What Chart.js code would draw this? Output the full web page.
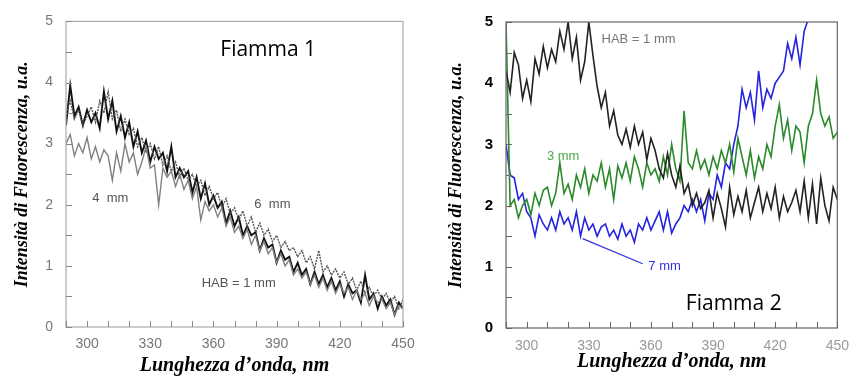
<!DOCTYPE html>
<html>
<head>
<meta charset="utf-8">
<script src="https://cdn.jsdelivr.net/npm/chart.js@4.4.1/dist/chart.umd.min.js"></script>
<style>
  body { margin: 0; background: #fff; }
  #wrap { display: flex; width: 859px; height: 376px; }
  .panel { position: relative; height: 376px; }
</style>
</head>
<body>
<div id="wrap">
  <div class="panel" style="width:430px"><canvas id="fiamma1Chart"></canvas></div>
  <div class="panel" style="width:429px"><canvas id="fiamma2Chart"></canvas></div>
</div>
<script>
// Wavelengths (nm), shared by every spectrum
const wavelengths = [290, 292, 294, 296, 298, 300, 302, 304, 306, 308, 310, 312, 314, 316, 318, 320,
  322, 324, 326, 328, 330, 332, 334, 336, 338, 340, 342, 344, 346, 348, 350, 352, 354, 356, 358, 360,
  362, 364, 366, 368, 370, 372, 374, 376, 378, 380, 382, 384, 386, 388, 390, 392, 394, 396, 398, 400,
  402, 404, 406, 408, 410, 412, 414, 416, 418, 420, 422, 424, 426, 428, 430, 432, 434, 436, 438, 440,
  442, 444, 446, 448, 450];

// Fiamma 1
const f1Hab1 = [3.30, 3.95, 3.45, 3.60, 3.30, 3.55, 3.35, 3.50, 3.25, 3.85, 3.40, 3.70, 3.20, 3.45, 3.10, 3.35,
  2.95, 3.20, 2.85, 3.05, 2.70, 2.95, 2.75, 2.85, 2.55, 2.95, 2.45, 2.60, 2.45, 2.55, 2.20, 2.45, 2.10, 2.35, 2.00, 2.15,
  1.95, 2.05, 1.70, 1.90, 1.65, 1.80, 1.50, 1.65, 1.50, 1.55, 1.25, 1.45, 1.30, 1.35, 1.05, 1.25, 1.10, 1.15, 0.90, 1.05,
  0.85, 0.95, 0.70, 0.90, 0.70, 0.85, 0.65, 0.80, 0.60, 0.75, 0.50, 0.70, 0.55, 0.60, 0.40, 0.85, 0.45, 0.55, 0.30, 0.50,
  0.35, 0.45, 0.20, 0.40, 0.30];
const f1Mm4 = [3.00, 3.15, 2.80, 3.00, 2.85, 3.10, 2.75, 2.95, 2.70, 2.90, 2.80, 2.40, 2.85, 2.55, 3.00, 2.70,
  2.85, 2.50, 2.70, 2.95, 2.60, 2.65, 2.00, 2.60, 2.45, 2.55, 2.30, 2.50, 2.25, 2.40, 2.10, 2.30, 1.75, 2.05, 1.90, 2.00,
  1.80, 1.95, 1.65, 1.80, 1.55, 1.65, 1.45, 1.60, 1.35, 1.50, 1.25, 1.40, 1.20, 1.30, 1.05, 1.20, 1.00, 1.10, 0.85, 0.95,
  0.80, 0.90, 0.70, 0.85, 0.65, 0.80, 0.60, 0.75, 0.55, 0.70, 0.55, 0.65, 0.45, 0.60, 0.45, 0.55, 0.35, 0.50, 0.40, 0.45,
  0.30, 0.40, 0.20, 0.35, 0.30];
const f1Mm6 = [3.50, 3.70, 3.40, 3.55, 3.30, 3.45, 3.60, 3.35, 3.70, 3.50, 3.85, 3.40, 3.55, 3.20, 3.40, 3.15,
  3.25, 2.95, 3.10, 2.85, 3.00, 2.75, 2.95, 2.65, 2.80, 2.55, 2.70, 2.45, 2.60, 2.40, 2.50, 2.30, 2.40, 2.15, 2.30, 2.10,
  2.20, 1.95, 2.10, 1.85, 1.95, 1.75, 1.90, 1.65, 1.80, 1.55, 1.70, 1.50, 1.60, 1.40, 1.50, 1.30, 1.40, 1.25, 1.30, 1.15,
  1.25, 1.05, 1.15, 0.95, 1.25, 0.90, 1.00, 0.85, 0.95, 0.80, 0.90, 0.70, 0.80, 0.60, 0.75, 0.55, 0.65, 0.50, 0.60, 0.45,
  0.55, 0.40, 0.50, 0.30, 0.45];

// Fiamma 2
const f2Hab1 = [4.20, 3.85, 4.50, 4.30, 3.75, 4.05, 3.70, 4.40, 4.15, 4.60, 4.25, 4.55, 4.35, 4.85, 4.55, 5.00,
  4.40, 4.75, 4.05, 4.35, 5.00, 4.45, 3.95, 3.60, 3.85, 3.30, 3.55, 3.15, 3.00, 3.25, 2.95, 3.30, 3.00, 3.20, 2.75, 3.10,
  2.90, 2.60, 2.45, 2.85, 2.50, 2.30, 2.65, 2.20, 2.35, 2.00, 2.20, 1.95, 2.05, 2.25, 1.80, 2.20, 1.95, 1.65, 2.30, 1.85,
  2.15, 1.90, 2.25, 1.80, 2.05, 2.30, 1.90, 2.20, 1.95, 2.30, 1.80, 2.15, 1.90, 2.05, 2.25, 1.90, 2.40, 1.80, 2.35, 1.70,
  2.45, 2.00, 1.75, 2.30, 2.10];
const f2Mm3 = [5.00, 2.00, 2.10, 1.80, 2.00, 2.10, 1.85, 2.20, 2.00, 2.25, 2.30, 2.00, 2.20, 2.70, 2.20, 2.35,
  2.10, 2.50, 2.30, 2.60, 2.20, 2.50, 2.40, 2.70, 2.30, 2.60, 2.10, 2.65, 2.45, 2.70, 2.40, 2.80, 2.60, 2.30, 2.70, 2.50,
  2.60, 2.40, 2.80, 2.50, 3.00, 2.60, 2.40, 3.55, 2.70, 2.60, 2.90, 2.60, 2.75, 2.50, 2.80, 2.60, 2.90, 2.70, 3.00, 2.55,
  3.10, 2.80, 2.50, 2.90, 2.45, 2.80, 2.60, 3.00, 2.80, 3.30, 3.65, 3.10, 3.40, 2.90, 3.30, 3.20, 2.70, 3.30, 3.50, 4.05,
  3.50, 3.30, 3.45, 3.10, 3.20];
const f2Mm7 = [3.00, 2.50, 2.45, 2.10, 2.20, 1.90, 1.80, 1.50, 1.85, 1.70, 1.60, 1.80, 1.60, 1.90, 1.70, 1.80,
  1.60, 1.90, 1.50, 1.80, 1.60, 1.70, 1.50, 1.65, 1.70, 1.50, 1.60, 1.45, 1.70, 1.50, 1.60, 1.40, 1.70, 1.60, 1.80, 1.60,
  1.75, 1.90, 1.60, 1.90, 1.55, 1.70, 1.80, 2.00, 1.90, 2.10, 1.90, 2.10, 1.75, 2.20, 2.10, 2.50, 2.30, 2.70, 2.60, 3.00,
  3.30, 3.90, 3.60, 3.85, 3.40, 4.20, 3.60, 3.90, 3.75, 4.00, 4.10, 4.20, 4.65, 4.40, 4.75, 4.30, 4.85, 5.05, 5.10, 5.20,
  5.30, 5.40, 5.50, 5.60, 5.70];

const yTicks = [0, 1, 2, 3, 4, 5];
const xTicks = [300, 330, 360, 390, 420, 450];

function toPoints(values) {
  return values.map((v, i) => ({ x: wavelengths[i], y: v }));
}

// frame, inward ticks, labels and pointer line
const panelText = {
  id: 'panelText',
  afterDatasetsDraw(chart, args, opts) {
    const { ctx, chartArea, scales: { x, y } } = chart;
    ctx.save();
    ctx.strokeStyle = opts.frameColor;
    ctx.lineWidth = 1.2;
    ctx.strokeRect(chartArea.left, chartArea.top, chartArea.right - chartArea.left, chartArea.bottom - chartArea.top);
    ctx.strokeStyle = opts.tickColor;
    ctx.lineWidth = 1;
    ctx.beginPath();
    x.ticks.forEach(t => {
      const px = Math.round(x.getPixelForValue(t.value)) + 0.5;
      ctx.moveTo(px, chartArea.bottom);
      ctx.lineTo(px, chartArea.bottom - 6);
    });
    y.ticks.forEach(t => {
      const py = Math.round(y.getPixelForValue(t.value)) + 0.5;
      ctx.moveTo(chartArea.left, py);
      ctx.lineTo(chartArea.left + 6, py);
    });
    ctx.stroke();
    (opts.lines || []).forEach(l => {
      ctx.strokeStyle = l.color;
      ctx.lineWidth = 1.3;
      ctx.beginPath();
      ctx.moveTo(x.getPixelForValue(l.x1), y.getPixelForValue(l.y1));
      ctx.lineTo(x.getPixelForValue(l.x2), y.getPixelForValue(l.y2));
      ctx.stroke();
    });
    (opts.labels || []).forEach(l => {
      ctx.font = l.font;
      ctx.fillStyle = l.color;
      ctx.textAlign = 'center';
      ctx.textBaseline = 'middle';
      ctx.fillText(l.text, x.getPixelForValue(l.x), y.getPixelForValue(l.y));
    });
    ctx.restore();
  }
};

function makeChart(id, datasets, cfg) {
  return new Chart(document.getElementById(id), {
    type: 'line',
    data: { datasets },
    plugins: [panelText],
    options: {
      responsive: true,
      maintainAspectRatio: false,
      animation: false,
      layout: { padding: cfg.padding },
      elements: { point: { radius: 0 }, line: { tension: 0 } },
      scales: {
        x: {
          type: 'linear',
          min: 290,
          max: 450,
          afterFit: s => { s.height = cfg.xHeight; },
          border: { display: false },
          grid: { display: false, drawTicks: false },
          ticks: {
            stepSize: 10,
            autoSkip: false,
            maxRotation: 0,
            padding: cfg.xPad,
            color: cfg.xTickColor,
            font: { family: 'Liberation Sans', size: 14 },
            callback: v => xTicks.includes(v) ? String(v) : ''
          },
          title: {
            display: true,
            text: 'Lunghezza d\u2019onda, nm',
            color: '#000',
            padding: { top: 0, bottom: cfg.xTitlePad },
            font: { family: 'Liberation Serif', size: 20, weight: 'bold', style: 'italic', lineHeight: 1 }
          }
        },
        y: {
          min: 0,
          max: 5,
          afterFit: s => { s.width = cfg.yWidth; },
          border: { display: false },
          grid: { display: false, drawTicks: false },
          ticks: {
            stepSize: 0.5,
            autoSkip: false,
            padding: 13,
            color: cfg.yTickColor,
            font: { family: 'Liberation Sans', size: cfg.yTickSize, weight: cfg.yTickWeight },
            callback: v => yTicks.includes(v) ? String(v) : ''
          },
          title: {
            display: true,
            text: 'Intensit\u00e0 di Fluorescenza, u.a.',
            color: '#000',
            padding: { top: cfg.yTitlePad, bottom: 0 },
            font: { family: 'Liberation Serif', size: 18, weight: 'bold', style: 'italic', lineHeight: 1.2 }
          }
        }
      },
      plugins: {
        legend: { display: false },
        tooltip: { enabled: false },
        panelText: cfg.text
      }
    }
  });
}

// Fiamma 1 panel
makeChart('fiamma1Chart', [
  { label: '4 mm', data: toPoints(f1Mm4), borderColor: '#808080', borderWidth: 1.4 },
  { label: '6 mm', data: toPoints(f1Mm6), borderColor: '#555', borderWidth: 1.4, borderDash: [2, 1] },
  { label: 'HAB = 1 mm', data: toPoints(f1Hab1), borderColor: '#111', borderWidth: 1.9 }
], {
  padding: { left: 0, right: 27, top: 19, bottom: 0 },
  xHeight: 49, yWidth: 66, xPad: 9, xTitlePad: 0, yTitlePad: 12,
  xTickColor: '#777', yTickColor: '#777', yTickSize: 14, yTickWeight: 'normal',
  text: {
    frameColor: '#aaa',
    tickColor: '#888',
    labels: [
      { text: 'Fiamma 1', x: 386, y: 4.53, font: '21px "Open Sans"', color: '#000' },
      { text: '4  mm', x: 311, y: 2.11, font: '13px "Liberation Sans"', color: '#555' },
      { text: '6  mm', x: 388, y: 2.0, font: '13px "Liberation Sans"', color: '#555' },
      { text: 'HAB = 1 mm', x: 372, y: 0.71, font: '13px "Liberation Sans"', color: '#555' }
    ]
  }
});

// Fiamma 2 panel
makeChart('fiamma2Chart', [
  { label: 'HAB = 1 mm', data: toPoints(f2Hab1), borderColor: '#222', borderWidth: 1.6 },
  { label: '3 mm', data: toPoints(f2Mm3), borderColor: '#2a8a2a', borderWidth: 1.6 },
  { label: '7 mm', data: toPoints(f2Mm7), borderColor: '#2323e0', borderWidth: 1.6 }
], {
  padding: { left: 0, right: 11, top: 17, bottom: 0 },
  xHeight: 48, yWidth: 76, xPad: 10, xTitlePad: 4, yTitlePad: 16,
  xTickColor: '#999', yTickColor: '#000', yTickSize: 15, yTickWeight: 'bold',
  text: {
    frameColor: '#666',
    tickColor: '#666',
    lines: [{ x1: 327, y1: 1.46, x2: 356, y2: 1.05, color: '#3333dd' }],
    labels: [
      { text: 'Fiamma 2', x: 400, y: 0.4, font: '21px "Open Sans"', color: '#000' },
      { text: 'HAB = 1 mm', x: 354, y: 4.71, font: '13px "Liberation Sans"', color: '#777' },
      { text: '3 mm', x: 317.6, y: 2.81, font: '13px "Liberation Sans"', color: '#4aa84a' },
      { text: '7 mm', x: 366.6, y: 1.01, font: '13px "Liberation Sans"', color: '#3333dd' }
    ]
  }
});
</script>
</body>
</html>
